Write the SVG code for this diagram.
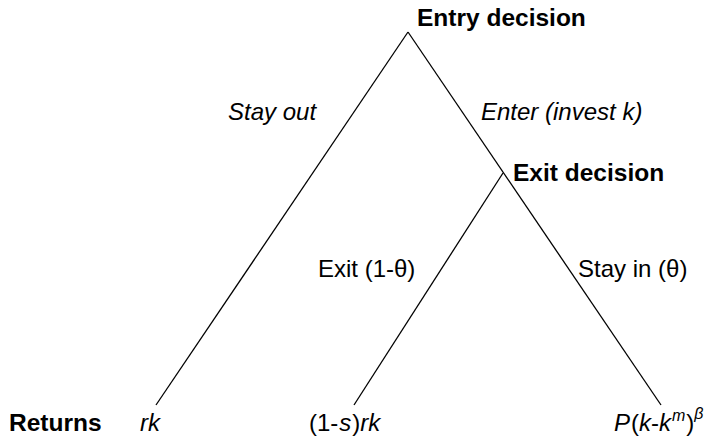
<svg xmlns="http://www.w3.org/2000/svg" width="714" height="438" viewBox="0 0 714 438">
<style>
  text { font-family: "Liberation Sans", Arial, sans-serif; font-size: 24px; fill: #000; }
  .b { font-weight: bold; font-size: 24.5px; }
  .i { font-style: italic; }
  .edge { stroke: #000; stroke-width: 1.3; fill: none; }
</style>
<rect width="714" height="438" fill="#fff"/>
<g id="connectors">
  <line class="edge" x1="408" y1="32" x2="156" y2="405"/>
  <line class="edge" x1="408" y1="32" x2="661" y2="405"/>
  <line class="edge" x1="503" y1="173" x2="354" y2="405"/>
</g>
<g id="entry">
  <text class="b" x="417" y="26">Entry decision</text>
</g>
<g id="exit">
  <text class="b" x="513" y="181">Exit decision</text>
</g>
<g id="labels">
  <text class="i" x="228" y="120">Stay out</text>
  <text class="i" x="481" y="120">Enter (invest k)</text>
  <text x="318" y="277">Exit (1-θ)</text>
  <text x="578" y="277">Stay in (θ)</text>
</g>
<g id="returns">
  <text class="b" x="9" y="431">Returns</text>
  <text class="i" x="140" y="431">rk</text>
  <text x="309" y="431">(1-<tspan class="i" dx="1">s</tspan><tspan dx="1">)</tspan><tspan class="i">rk</tspan></text>
  <text x="614" y="431"><tspan class="i">P</tspan><tspan dx="1">(</tspan><tspan class="i">k</tspan>-<tspan class="i">k</tspan><tspan class="i" font-size="16" dy="-10" dx="1">m</tspan><tspan dy="10" dx="1">)</tspan><tspan class="i" font-size="16" dy="-12">β</tspan></text>
</g>
</svg>
